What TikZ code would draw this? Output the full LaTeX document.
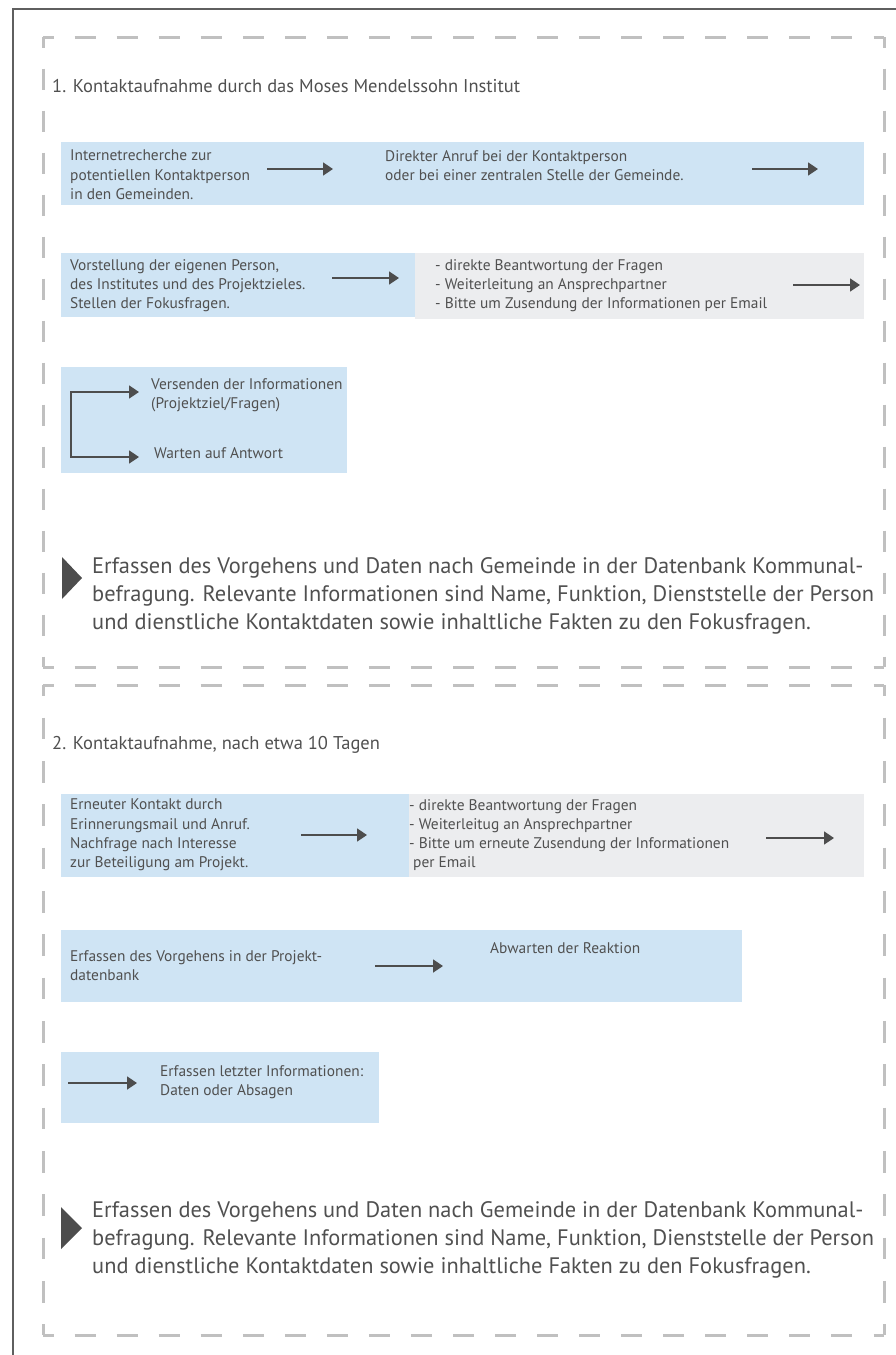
\documentclass[tikz,border=0pt]{standalone}
\usepackage{fontspec}
\setmainfont{PT Sans}
\usetikzlibrary{positioning,arrows.meta}
\definecolor{boxblue}{RGB}{207,228,244}
\definecolor{boxgray}{RGB}{236,237,239}
\definecolor{txtgray}{RGB}{80,80,80}
\definecolor{arrgray}{RGB}{77,77,77}
\definecolor{dashgray}{RGB}{192,192,192}
\definecolor{framegray}{RGB}{95,95,95}
\tikzset{
  smalltxt/.style={anchor=north west, inner sep=0pt, align=left, text=txtgray, font=\fontsize{15.4}{19.2}\selectfont},
  headtxt/.style={anchor=north west, inner sep=0pt, text=txtgray, font=\fontsize{18.5}{22}\selectfont},
  bigtxt/.style={anchor=north west, inner sep=0pt, align=left, text=txtgray, font=\fontsize{22.4}{28}\selectfont},
  arr/.style={draw=arrgray, line width=1.8pt, -{Triangle[length=10pt,width=13pt]}},
  dashline/.style={draw=dashgray, line width=3pt},
}
\begin{document}
\begin{tikzpicture}[x=1pt,y=-1pt]
\useasboundingbox (0,0) rectangle (896,1355);
% frame
\draw[framegray, line width=2pt] (13,1355) -- (13,9) -- (896,9);
% dashed boxes
\draw[dashline, dash pattern=on 21 off 21.05, dash phase=10.5] (43,37) -- (884,37) (43,667) -- (884,667);
\draw[dashline, dash pattern=on 21 off 21, dash phase=10.5] (43,37) -- (43,667) (884,37) -- (884,667);
\draw[dashline, dash pattern=on 21 off 21.05, dash phase=10.5] (43,685) -- (884,685) (43,1335) -- (884,1335);
\draw[dashline, dash pattern=on 21.67 off 21.67, dash phase=10.83] (43,685) -- (43,1335) (884,685) -- (884,1335);

%%% part 1
\node[headtxt] (head1) at (52,79) {1. Kontaktaufnahme durch das Moses Mendelssohn Institut};

\fill[boxblue] (61,142) rectangle (864,205);
\node[smalltxt] (recherche) at (70,150) {Internetrecherche zur\\potentiellen Kontaktperson\\in den Gemeinden.};
\node[smalltxt] (anruf) at (385,150) {Direkter Anruf bei der Kontaktperson\\oder bei einer zentralen Stelle der Gemeinde.};
\coordinate (a1s) at (267,169); \coordinate (a1e) at (333,169);
\coordinate (a2s) at (752,169); \coordinate (a2e) at (818,169);
\draw[arr] (a1s) -- (a1e);
\draw[arr] (a2s) -- (a2e);

\fill[boxblue] (61,253) rectangle (415,317);
\fill[boxgray] (415,253) rectangle (864,319);
\node[smalltxt] (vorstellung) at (70,259) {Vorstellung der eigenen Person,\\des Institutes und des Projektzieles.\\Stellen der Fokusfragen.};
\node[smalltxt] (antwort1) at (435,259) {- direkte Beantwortung der Fragen\\- Weiterleitung an Ansprechpartner\\- Bitte um Zusendung der Informationen per Email};
\coordinate (a3s) at (332,278); \coordinate (a3e) at (399,278);
\coordinate (a4s) at (793,285); \coordinate (a4e) at (860,285);
\draw[arr] (a3s) -- (a3e);
\draw[arr] (a4s) -- (a4e);

\fill[boxblue] (61,367) rectangle (347,473);
\node[smalltxt] (versenden) at (151,378) {Versenden der Informationen\\(Projektziel/Fragen)};
\node[smalltxt] (warten) at (154,447) {Warten auf Antwort};
\coordinate (b1) at (139,392); \coordinate (b2) at (71,392);
\coordinate (b3) at (71,457); \coordinate (b4) at (139,457);
\draw[arr, {Triangle[length=10pt,width=13pt]}-{Triangle[length=10pt,width=13pt]}] (b1) -- (b2) -- (b3) -- (b4);

\fill[arrgray] (62,557) -- (82,578) -- (62,599) -- cycle;
\node[bigtxt] (erfassen1) at (92,557) {Erfassen des Vorgehens und Daten nach Gemeinde in der Datenbank Kommunal-\\befragung. Relevante Informationen sind Name, Funktion, Dienststelle der Person\\und dienstliche Kontaktdaten sowie inhaltliche Fakten zu den Fokusfragen.};

%%% part 2
\node[headtxt] (head2) at (52,736) {2. Kontaktaufnahme, nach etwa 10 Tagen};

\fill[boxblue] (61,794) rectangle (409,877);
\fill[boxgray] (409,794) rectangle (864,877);
\node[smalltxt] (erneut) at (70,799) {Erneuter Kontakt durch\\Erinnerungsmail und Anruf.\\Nachfrage nach Interesse\\zur Beteiligung am Projekt.};
\node[smalltxt] (antwort2) at (409,799) {- direkte Beantwortung der Fragen\\- Weiterleitug an Ansprechpartner\\- Bitte um erneute Zusendung der Informationen\\\hspace*{4pt}per Email};
\coordinate (a5s) at (301,835); \coordinate (a5e) at (367,835);
\coordinate (a6s) at (766,838); \coordinate (a6e) at (834,838);
\draw[arr] (a5s) -- (a5e);
\draw[arr] (a6s) -- (a6e);

\fill[boxblue] (61,930) rectangle (742,1002);
\node[smalltxt] (projektdb) at (70,950) {Erfassen des Vorgehens in der Projekt-\\datenbank};
\node[smalltxt] (abwarten) at (490,942) {Abwarten der Reaktion};
\coordinate (a7s) at (375,966); \coordinate (a7e) at (443,966);
\draw[arr] (a7s) -- (a7e);

\fill[boxblue] (61,1052) rectangle (379,1123);
\node[smalltxt] (letzte) at (160,1065) {Erfassen letzter Informationen:\\Daten oder Absagen};
\coordinate (a8s) at (68,1083); \coordinate (a8e) at (137,1083);
\draw[arr] (a8s) -- (a8e);

\fill[arrgray] (61,1207) -- (82,1228) -- (61,1249) -- cycle;
\node[bigtxt] (erfassen2) at (92,1201) {Erfassen des Vorgehens und Daten nach Gemeinde in der Datenbank Kommunal-\\befragung. Relevante Informationen sind Name, Funktion, Dienststelle der Person\\und dienstliche Kontaktdaten sowie inhaltliche Fakten zu den Fokusfragen.};
\end{tikzpicture}
\end{document}
